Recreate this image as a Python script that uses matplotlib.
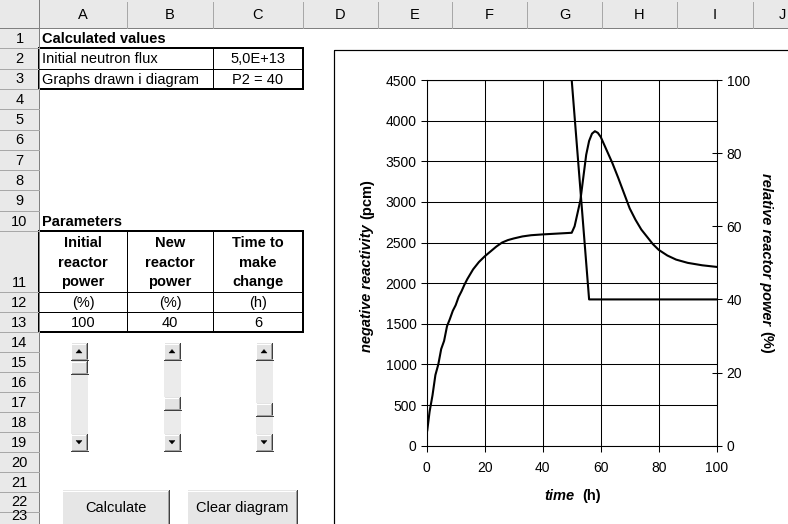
import matplotlib
matplotlib.use("Agg")
import matplotlib.pyplot as plt
from matplotlib.patches import Rectangle, Polygon

# ---------------- data ----------------
time_h = [0.2, 1, 2, 3, 4, 5, 6, 7, 8, 9, 10, 11, 12, 13, 14, 16, 18, 20, 22, 24, 26,
          28, 30, 33, 36, 40, 45, 50, 51, 52, 53, 54, 55, 56, 57, 58, 59, 60, 62, 64,
          66, 68, 70, 72, 74, 76, 78, 80, 83, 86, 90, 95, 100]
neg_reactivity = [190, 420, 620, 870, 1000, 1190, 1290, 1470, 1560, 1660, 1730, 1830,
                  1900, 1980, 2050, 2170, 2260, 2330, 2390, 2450, 2500, 2530, 2550, 2575,
                  2590, 2600, 2610, 2620, 2700, 2860, 3020, 3300, 3580, 3750, 3840, 3870,
                  3850, 3800, 3640, 3480, 3300, 3110, 2920, 2780, 2660, 2570, 2480, 2410,
                  2340, 2290, 2250, 2220, 2200]
power_time = [0, 50, 56, 100]
rel_power = [100, 100, 40, 40]

x_ticks = [0, 20, 40, 60, 80, 100]
left_ticks = [0, 500, 1000, 1500, 2000, 2500, 3000, 3500, 4000, 4500]
right_ticks = [0, 20, 40, 60, 80, 100]

col_labels = ["A", "B", "C", "D", "E", "F", "G", "H", "I", "J"]
row_labels = [str(i) for i in range(1, 24)]

calc_title = "Calculated values"
calc_names = ["Initial neutron flux", "Graphs drawn i diagram"]
calc_values = ["5,0E+13", "P2 = 40"]
param_title = "Parameters"
param_headers = [["Initial", "reactor", "power"], ["New", "reactor", "power"],
                 ["Time to", "make", "change"]]
param_units = ["(%)", "(%)", "(h)"]
param_values = ["100", "40", "6"]
button_labels = ["Calculate", "Clear diagram"]

FONT = "Liberation Sans"
plt.rcParams["font.family"] = [FONT, "DejaVu Sans"]

W, H = 788, 524
fig = plt.figure(figsize=(W / 100, H / 100), dpi=100)
fig.patch.set_facecolor("white")

bg = fig.add_axes([0, 0, 1, 1])
bg.set_xlim(0, W)
bg.set_ylim(H, 0)
bg.axis("off")

PX = 0.72  # 1 pixel in points

# sheet geometry
col_edges = [0, 39, 127, 213, 303, 378, 452, 527, 602, 677, 753, 828]
hdr_h = 28
row_edges = [hdr_h]
for r in range(1, 24):
    if r <= 10:
        h = 20.3
    elif r == 11:
        h = 61
    else:
        h = 20
    row_edges.append(row_edges[-1] + h)

HDR_FACE = "#e9e9e9"
HDR_LINE = "#a8a8a8"

# column header band
bg.add_patch(Rectangle((0, 0), W, hdr_h, facecolor=HDR_FACE, edgecolor="none"))
bg.plot([0, W], [hdr_h, hdr_h], color="#808080", lw=PX)
for i, lab in enumerate(col_labels):
    x0, x1 = col_edges[i + 1], col_edges[i + 2]
    bg.plot([x1, x1], [2, hdr_h], color=HDR_LINE, lw=PX)
    cx = min((x0 + x1) / 2, W - 6)
    bg.text(cx, hdr_h / 2 + 1, lab, ha="center", va="center", fontsize=10.5,
            color="black")
bg.plot([col_edges[1], col_edges[1]], [0, H], color="#808080", lw=PX)

# row header band
bg.add_patch(Rectangle((0, hdr_h), col_edges[1], H - hdr_h, facecolor=HDR_FACE,
                       edgecolor="none"))
for r, lab in enumerate(row_labels, start=1):
    y0, y1 = row_edges[r - 1], row_edges[r]
    bg.plot([0, col_edges[1]], [y1, y1], color=HDR_LINE, lw=PX)
    yb = min(y1 - 2.5, H - 1)
    bg.text(col_edges[1] / 2, yb, lab, ha="center", va="bottom", fontsize=10.5)


def rc(r):
    return (row_edges[r - 1] + row_edges[r]) / 2


def ccen(c):
    return (col_edges[c] + col_edges[c + 1]) / 2


THICK = 2 * PX
THIN = 1 * PX

# Calculated values block
bg.text(col_edges[1] + 3, rc(1) + 1, calc_title, ha="left", va="center", fontsize=10.5,
        fontweight="bold")
for k in range(2):
    r = 2 + k
    bg.text(col_edges[1] + 3, rc(r) + 1, calc_names[k], ha="left", va="center",
            fontsize=10.5)
    bg.text(ccen(3), rc(r) + 1, calc_values[k], ha="center", va="center", fontsize=10.5)
x0, x1 = col_edges[1], col_edges[4]
y0, y1 = row_edges[1], row_edges[3]
bg.plot([x0, x1], [row_edges[2], row_edges[2]], color="black", lw=THIN)
bg.plot([col_edges[3], col_edges[3]], [y0, y1], color="black", lw=THIN)
bg.add_patch(Rectangle((x0, y0), x1 - x0, y1 - y0, fill=False, edgecolor="black",
                       lw=THICK))

# Parameters block
bg.text(col_edges[1] + 3, rc(10) + 1, param_title, ha="left", va="center", fontsize=10.5,
        fontweight="bold")
for c in range(3):
    cx = ccen(c + 1)
    for j, line in enumerate(param_headers[c]):
        bg.text(cx, row_edges[10] + 12 + j * 19.5, line, ha="center", va="center",
                fontsize=10.5, fontweight="bold")
    bg.text(cx, rc(12) + 1, param_units[c], ha="center", va="center", fontsize=10.5)
    bg.text(cx, rc(13) + 1, param_values[c], ha="center", va="center", fontsize=10.5)
x0, x1 = col_edges[1], col_edges[4]
y0, y1 = row_edges[10], row_edges[13]
for ye in (row_edges[11], row_edges[12]):
    bg.plot([x0, x1], [ye, ye], color="black", lw=THIN)
for xe in (col_edges[2], col_edges[3]):
    bg.plot([xe, xe], [y0, y1], color="black", lw=THIN)
bg.add_patch(Rectangle((x0, y0), x1 - x0, y1 - y0, fill=False, edgecolor="black",
                       lw=THICK))


def bevel(x, y, w, h, face="#e3e3e3"):
    bg.add_patch(Rectangle((x, y), w, h, facecolor=face, edgecolor="none"))
    bg.plot([x, x + w], [y + 0.5, y + 0.5], color="white", lw=PX)
    bg.plot([x + 0.5, x + 0.5], [y, y + h], color="white", lw=PX)
    bg.plot([x, x + w], [y + h - 0.5, y + h - 0.5], color="#404040", lw=PX)
    bg.plot([x + w - 0.5, x + w - 0.5], [y, y + h], color="#404040", lw=PX)
    bg.plot([x + 1, x + w - 1], [y + h - 1.5, y + h - 1.5], color="#a0a0a0", lw=PX)
    bg.plot([x + w - 1.5, x + w - 1.5], [y + 1, y + h - 1], color="#a0a0a0", lw=PX)


# scroll bars
sb_x = [71, 164, 256]
sb_thumb = [361, 397, 403]
sb_top, sb_bot, sb_w = 343, 451, 17
for x, ty in zip(sb_x, sb_thumb):
    bg.add_patch(Rectangle((x, sb_top), sb_w, sb_bot - sb_top, facecolor="#ebebeb",
                           edgecolor="none"))
    bevel(x, sb_top, sb_w, 17)
    bevel(x, sb_bot - 17, sb_w, 17)
    bevel(x, ty, sb_w, 13)
    cx = x + sb_w / 2 - 0.5
    bg.add_patch(Polygon([[cx - 3, sb_top + 10], [cx + 3, sb_top + 10], [cx, sb_top + 6.5]],
                         closed=True, facecolor="black", edgecolor="black", lw=0.3))
    bg.add_patch(Polygon([[cx - 3, sb_bot - 10.5], [cx + 3, sb_bot - 10.5],
                          [cx, sb_bot - 7]], closed=True, facecolor="black",
                         edgecolor="black", lw=0.3))

# buttons
for (bx0, bx1), lab in zip([(62, 170), (187, 298)], button_labels):
    bevel(bx0, 490, bx1 - bx0, 40, face="#e6e6e6")
    bg.text((bx0 + bx1) / 2, 508, lab, ha="center", va="center", fontsize=10.5)

# chart frame
bg.add_patch(Rectangle((334, 50), 600, 600, fill=False, edgecolor="black", lw=PX * 1.2))

# ---------------- chart ----------------
ax = fig.add_axes([426.7 / W, 1 - 445.7 / H, 290 / W, 365.7 / H])
ax.set_facecolor("none")
ax.set_xlim(0, 100)
ax.set_ylim(0, 4500)
ax.set_xticks(x_ticks)
ax.set_yticks(left_ticks)
ax.grid(True, color="black", lw=0.75)
ax.set_axisbelow(True)
for s in ax.spines.values():
    s.set_color("black")
    s.set_linewidth(0.75)
ax.tick_params(axis="y", direction="out", length=4.3, width=0.75, pad=3, labelsize=10)
ax.tick_params(axis="x", direction="out", length=4, width=0.75, pad=7, labelsize=10)
ax.plot(time_h, neg_reactivity, color="black", lw=1.5, zorder=3)

ax2 = ax.twinx()
ax2.set_ylim(0, 100)
ax2.set_yticks(right_ticks)
ax2.tick_params(axis="y", direction="inout", length=7.2, width=0.75, pad=3.6,
                labelsize=10)
for s in ax2.spines.values():
    s.set_color("black")
    s.set_linewidth(0.75)
ax2.plot(power_time, rel_power, color="black", lw=1.5, clip_on=True, zorder=3)

# axis titles
t1 = bg.text(367, 352, "negative reactivity", rotation=90, ha="center", va="bottom",
             fontsize=10.5, fontweight="bold", fontstyle="italic")
bg.annotate("(pcm)", xy=(0.5, 1), xycoords=t1, xytext=(0, 4), textcoords="offset points",
            rotation=90, ha="center", va="bottom", fontsize=10.5, fontweight="bold")
t2 = bg.text(766, 173, "relative reactor power", rotation=270, ha="center", va="top",
             fontsize=10.5, fontweight="bold", fontstyle="italic")
bg.annotate("(%)", xy=(0.5, 0), xycoords=t2, xytext=(0, -4), textcoords="offset points",
            rotation=270, ha="center", va="top", fontsize=10.5, fontweight="bold")
bg.text(575, 496, "time", ha="right", va="center", fontsize=10.5, fontweight="bold",
        fontstyle="italic")
bg.text(582, 496, "(h)", ha="left", va="center", fontsize=10.5, fontweight="bold")

fig.savefig("out.png", dpi=100, facecolor="white")
